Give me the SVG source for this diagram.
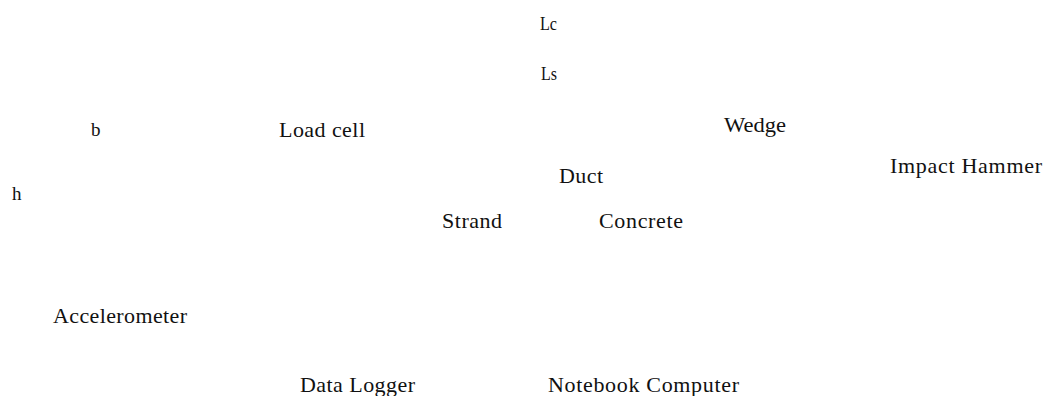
<svg xmlns="http://www.w3.org/2000/svg" width="1054" height="396" viewBox="0 0 1054 396">
<style>
text{font-family:"Liberation Serif","Times New Roman",serif;font-size:22px;fill:#111;}
text.s{font-size:19px;}
</style>
<rect width="1054" height="396" fill="#fff"/>
<g id="nodes">
<g id="lc"><text class="s" x="540" y="30" textLength="17" lengthAdjust="spacingAndGlyphs">Lc</text></g>
<g id="ls"><text class="s" x="541" y="80" textLength="16" lengthAdjust="spacingAndGlyphs">Ls</text></g>
<g id="b"><text class="s" x="91" y="136">b</text></g>
<g id="loadcell"><text x="279" y="137" textLength="86" lengthAdjust="spacing">Load cell</text></g>
<g id="wedge"><text x="724" y="132" textLength="62" lengthAdjust="spacingAndGlyphs">Wedge</text></g>
<g id="hammer"><text x="890" y="173" textLength="152" lengthAdjust="spacing">Impact Hammer</text></g>
<g id="duct"><text x="559" y="183" textLength="44" lengthAdjust="spacing">Duct</text></g>
<g id="h"><text class="s" x="12" y="200">h</text></g>
<g id="strand"><text x="442" y="228" textLength="60" lengthAdjust="spacing">Strand</text></g>
<g id="concrete"><text x="599" y="228" textLength="84" lengthAdjust="spacing">Concrete</text></g>
<g id="accel"><text x="53" y="323" textLength="134" lengthAdjust="spacing">Accelerometer</text></g>
<g id="logger"><text x="300" y="392" textLength="115" lengthAdjust="spacing">Data Logger</text></g>
<g id="notebook"><text x="548" y="392" textLength="191" lengthAdjust="spacing">Notebook Computer</text></g>
</g>
<g id="connectors"></g>
</svg>
